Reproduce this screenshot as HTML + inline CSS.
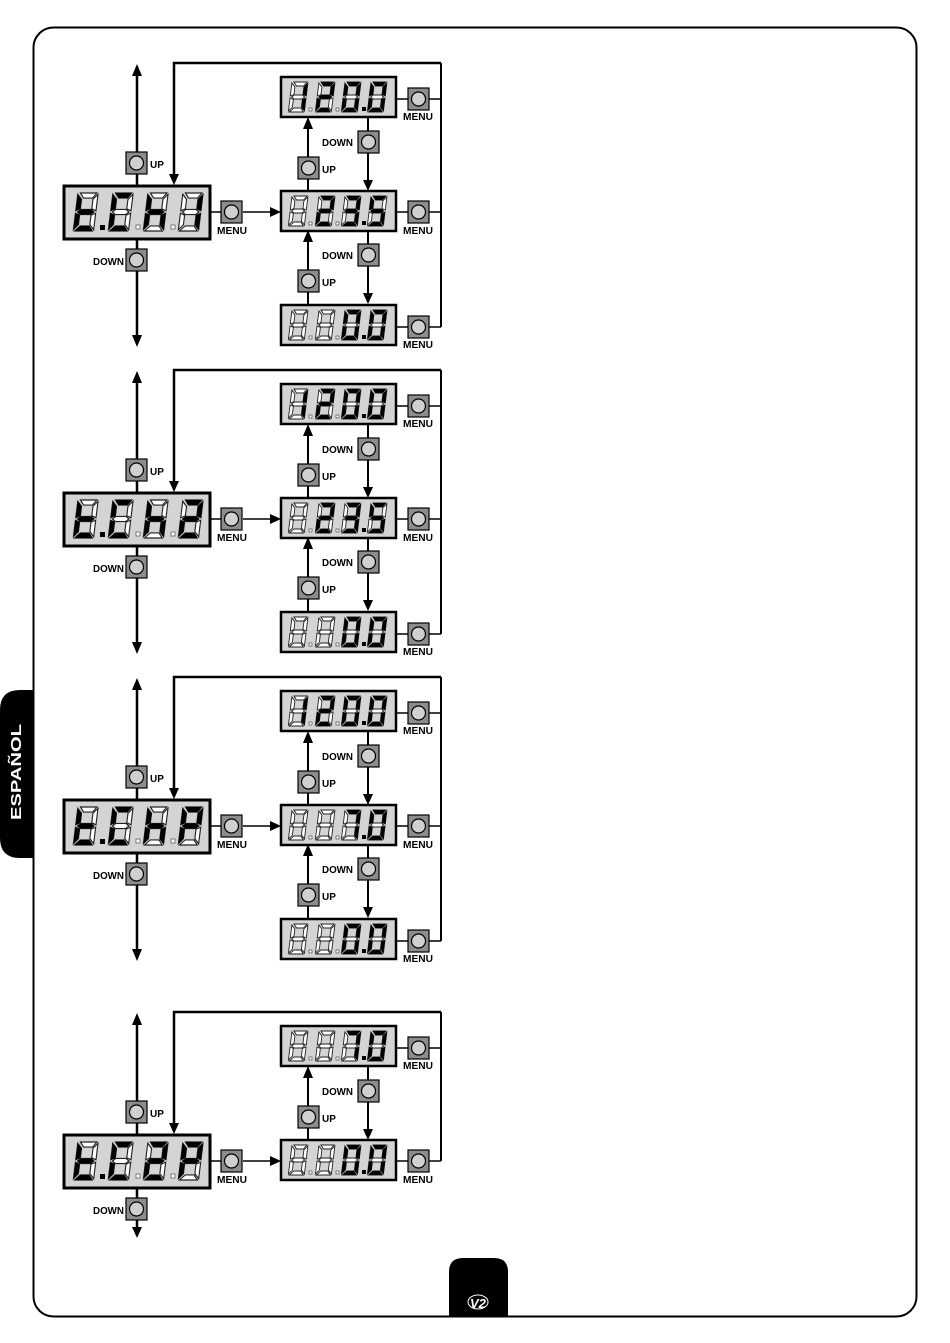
<!DOCTYPE html>
<html><head><meta charset="utf-8"><style>
html,body{margin:0;padding:0;background:#fff;}
svg{display:block}
text{font-family:"Liberation Sans",Arial,sans-serif;font-weight:bold;fill:#000}
</style></head><body>
<svg width="950" height="1343" viewBox="0 0 950 1343" xmlns="http://www.w3.org/2000/svg">
<defs>
<g id="sa"><polygon points="4,0 17,0 14,4 7,4"/></g>
<g id="sb"><polygon points="18,1 18,14 14.5,12.5 14.5,5"/></g>
<g id="sc"><polygon points="18,16 18,29 14.5,25 14.5,17.5"/></g>
<g id="sd"><polygon points="7,26 14,26 17,30 3,30"/></g>
<g id="se"><polygon points="2,16 5.5,17.5 5.5,25 2,29"/></g>
<g id="sf"><polygon points="2,1 5.5,5 5.5,12.5 2,14"/></g>
<g id="sg"><polygon points="3.5,15 6,13 14,13 16.5,15 14,17 6,17"/></g>
<g id="u8" fill="#fff" stroke="#222" stroke-width="0.9"><use href="#sa"/><use href="#sb"/><use href="#sc"/><use href="#sd"/><use href="#se"/><use href="#sf"/><use href="#sg"/></g>
<symbol id="dB" viewBox="0 0 20 30" overflow="visible"><g transform="skewX(-7) translate(2,0)"><use href="#u8"/></g></symbol>
<symbol id="d0" viewBox="0 0 20 30" overflow="visible"><g transform="skewX(-7) translate(2,0)"><use href="#u8"/><g fill="#000"><use href="#sa"/><use href="#sb"/><use href="#sc"/><use href="#sd"/><use href="#se"/><use href="#sf"/></g></g></symbol>
<symbol id="d1" viewBox="0 0 20 30" overflow="visible"><g transform="skewX(-7) translate(2,0)"><use href="#u8"/><g fill="#000"><use href="#sb"/><use href="#sc"/></g></g></symbol>
<symbol id="d2" viewBox="0 0 20 30" overflow="visible"><g transform="skewX(-7) translate(2,0)"><use href="#u8"/><g fill="#000"><use href="#sa"/><use href="#sb"/><use href="#sg"/><use href="#se"/><use href="#sd"/></g></g></symbol>
<symbol id="d3" viewBox="0 0 20 30" overflow="visible"><g transform="skewX(-7) translate(2,0)"><use href="#u8"/><g fill="#000"><use href="#sa"/><use href="#sb"/><use href="#sg"/><use href="#sc"/><use href="#sd"/></g></g></symbol>
<symbol id="d5" viewBox="0 0 20 30" overflow="visible"><g transform="skewX(-7) translate(2,0)"><use href="#u8"/><g fill="#000"><use href="#sa"/><use href="#sf"/><use href="#sg"/><use href="#sc"/><use href="#sd"/></g></g></symbol>
<symbol id="d7" viewBox="0 0 20 30" overflow="visible"><g transform="skewX(-7) translate(2,0)"><use href="#u8"/><g fill="#000"><use href="#sa"/><use href="#sb"/><use href="#sc"/></g></g></symbol>
<symbol id="dt" viewBox="0 0 20 30" overflow="visible"><g transform="skewX(-7) translate(2,0)"><use href="#u8"/><g fill="#000"><use href="#sf"/><use href="#sg"/><use href="#se"/><use href="#sd"/></g></g></symbol>
<symbol id="dC" viewBox="0 0 20 30" overflow="visible"><g transform="skewX(-7) translate(2,0)"><use href="#u8"/><g fill="#000"><use href="#sa"/><use href="#sf"/><use href="#se"/><use href="#sd"/></g></g></symbol>
<symbol id="dh" viewBox="0 0 20 30" overflow="visible"><g transform="skewX(-7) translate(2,0)"><use href="#u8"/><g fill="#000"><use href="#sf"/><use href="#sg"/><use href="#se"/><use href="#sc"/></g></g></symbol>
<symbol id="dP" viewBox="0 0 20 30" overflow="visible"><g transform="skewX(-7) translate(2,0)"><use href="#u8"/><g fill="#000"><use href="#sa"/><use href="#sb"/><use href="#sf"/><use href="#sg"/><use href="#se"/></g></g></symbol>
<g id="btn"><rect x="0" y="0" width="21" height="22" fill="#8c8c8c" stroke="#000" stroke-width="1.2"/><circle cx="10.5" cy="11" r="7" fill="#d0d0d0" stroke="#000" stroke-width="1.2"/></g>
<g id="mainbox"><rect x="64" y="186" width="146" height="53" fill="#d4d4d4" stroke="#000" stroke-width="3"/><rect x="100" y="225" width="5" height="5" fill="#000"/><rect x="136" y="225" width="4" height="4" fill="#fff" stroke="#333" stroke-width=".6"/><rect x="171" y="225" width="4" height="4" fill="#fff" stroke="#333" stroke-width=".6"/></g>
<g id="rbox"><rect x="0" y="0" width="115" height="40" fill="#d4d4d4" stroke="#000" stroke-width="2.5"/><rect x="28" y="31" width="3" height="3" fill="#fff" stroke="#333" stroke-width=".6"/><rect x="55" y="31" width="3" height="3" fill="#fff" stroke="#333" stroke-width=".6"/><rect x="81" y="30" width="4" height="4" fill="#000"/></g>
<g id="left" stroke="#000" stroke-width="2.5" fill="none">
<line x1="137" y1="72" x2="137" y2="186"/>
<polygon points="137,64 132,76 142,76" fill="#000" stroke="none"/>
<polyline points="174,177 174,63 441,63"/>
<polygon points="174,185 169,174 179,174" fill="#000" stroke="none"/>
<line x1="210" y1="212" x2="221" y2="212" stroke-width="1.5"/>
<line x1="243" y1="212" x2="272" y2="212" stroke-width="1.5"/>
<polygon points="281,212 270,207 270,217" fill="#000" stroke="none"/>
</g>
<g id="pair" stroke="#000" stroke-width="2" fill="none">
<line x1="308" y1="191" x2="308" y2="126"/>
<polygon points="308,117 303,129 313,129" fill="#000" stroke="none"/>
<line x1="368" y1="117" x2="368" y2="182"/>
<polygon points="368,191 363,180 373,180" fill="#000" stroke="none"/>
<use href="#btn" x="298" y="157"/>
<use href="#btn" x="358" y="131"/>
</g>
<g id="rmenu" stroke="#000" stroke-width="1.5"><line x1="396" y1="0" x2="408" y2="0"/><line x1="428" y1="0" x2="441" y2="0"/><use href="#btn" x="408" y="-11"/></g>
</defs>

<!-- frame -->
<rect x="33.5" y="27.5" width="883" height="1289" rx="20" ry="20" fill="none" stroke="#000" stroke-width="2"/>
<path d="M33,690 L20,690 Q0,690 0,710 L0,838 Q0,858 20,858 L33,858 Z" fill="#000"/>
<text x="0" y="0" transform="translate(21,820) rotate(-90)" font-size="15" style="fill:#fff" textLength="96" lengthAdjust="spacingAndGlyphs">ESPAÑOL</text>
<path d="M449,1316 L449,1272 Q449,1258 463,1258 L494,1258 Q508,1258 508,1272 L508,1316 Z" fill="#000"/>
<ellipse cx="478" cy="1302" rx="10" ry="7" fill="none" stroke="#fff" stroke-width="1"/>
<text x="470" y="1308" font-size="13" style="fill:#fff;font-style:italic">V2</text>

<!-- BLOCK 1 -->
<g transform="translate(0,0)">
<use href="#left"/>
<line x1="137" y1="186" x2="137" y2="338" stroke="#000" stroke-width="2.5"/>
<polygon points="137,347 132,335 142,335" fill="#000"/>
<use href="#btn" x="126" y="152"/><use href="#btn" x="126" y="249"/><use href="#btn" x="221" y="201"/>
<use href="#mainbox"/>
<use href="#dt" x="72" y="193" width="27" height="38"/><use href="#dC" x="107" y="193" width="27" height="38"/><use href="#dh" x="142" y="193" width="27" height="38"/><use href="#d1" x="177" y="193" width="27" height="38"/>
<line x1="441" y1="63" x2="441" y2="327" stroke="#000" stroke-width="2"/>
<use href="#pair"/><use href="#pair" y="113"/>
<use href="#rmenu" y="99"/><use href="#rmenu" y="212"/><use href="#rmenu" y="327"/>
<use href="#rbox" x="281" y="77"/><use href="#rbox" x="281" y="191"/><use href="#rbox" x="281" y="305"/>
<use href="#d1" x="288" y="82" width="20" height="30"/><use href="#d2" x="315" y="82" width="20" height="30"/><use href="#d0" x="341" y="82" width="20" height="30"/><use href="#d0" x="367" y="82" width="20" height="30"/>
<use href="#dB" x="288" y="196" width="20" height="30"/><use href="#d2" x="315" y="196" width="20" height="30"/><use href="#d3" x="341" y="196" width="20" height="30"/><use href="#d5" x="367" y="196" width="20" height="30"/>
<use href="#dB" x="288" y="310" width="20" height="30"/><use href="#dB" x="315" y="310" width="20" height="30"/><use href="#d0" x="341" y="310" width="20" height="30"/><use href="#d0" x="367" y="310" width="20" height="30"/>
<text x="150" y="168" font-size="10">UP</text><text x="93" y="265" font-size="10" textLength="31" lengthAdjust="spacingAndGlyphs">DOWN</text>
<text x="217" y="234" font-size="10" textLength="30" lengthAdjust="spacingAndGlyphs">MENU</text>
<text x="322" y="173" font-size="10">UP</text><text x="322" y="286" font-size="10">UP</text>
<text x="322" y="146" font-size="10" textLength="31" lengthAdjust="spacingAndGlyphs">DOWN</text><text x="322" y="259" font-size="10" textLength="31" lengthAdjust="spacingAndGlyphs">DOWN</text>
<text x="403" y="120" font-size="10" textLength="30" lengthAdjust="spacingAndGlyphs">MENU</text><text x="403" y="234" font-size="10" textLength="30" lengthAdjust="spacingAndGlyphs">MENU</text><text x="403" y="348" font-size="10" textLength="30" lengthAdjust="spacingAndGlyphs">MENU</text>
</g>

<!-- BLOCK 2 -->
<g transform="translate(0,307)">
<use href="#left"/>
<line x1="137" y1="186" x2="137" y2="338" stroke="#000" stroke-width="2.5"/>
<polygon points="137,347 132,335 142,335" fill="#000"/>
<use href="#btn" x="126" y="152"/><use href="#btn" x="126" y="249"/><use href="#btn" x="221" y="201"/>
<use href="#mainbox"/>
<use href="#dt" x="72" y="193" width="27" height="38"/><use href="#dC" x="107" y="193" width="27" height="38"/><use href="#dh" x="142" y="193" width="27" height="38"/><use href="#d2" x="177" y="193" width="27" height="38"/>
<line x1="441" y1="63" x2="441" y2="327" stroke="#000" stroke-width="2"/>
<use href="#pair"/><use href="#pair" y="113"/>
<use href="#rmenu" y="99"/><use href="#rmenu" y="212"/><use href="#rmenu" y="327"/>
<use href="#rbox" x="281" y="77"/><use href="#rbox" x="281" y="191"/><use href="#rbox" x="281" y="305"/>
<use href="#d1" x="288" y="82" width="20" height="30"/><use href="#d2" x="315" y="82" width="20" height="30"/><use href="#d0" x="341" y="82" width="20" height="30"/><use href="#d0" x="367" y="82" width="20" height="30"/>
<use href="#dB" x="288" y="196" width="20" height="30"/><use href="#d2" x="315" y="196" width="20" height="30"/><use href="#d3" x="341" y="196" width="20" height="30"/><use href="#d5" x="367" y="196" width="20" height="30"/>
<use href="#dB" x="288" y="310" width="20" height="30"/><use href="#dB" x="315" y="310" width="20" height="30"/><use href="#d0" x="341" y="310" width="20" height="30"/><use href="#d0" x="367" y="310" width="20" height="30"/>
<text x="150" y="168" font-size="10">UP</text><text x="93" y="265" font-size="10" textLength="31" lengthAdjust="spacingAndGlyphs">DOWN</text>
<text x="217" y="234" font-size="10" textLength="30" lengthAdjust="spacingAndGlyphs">MENU</text>
<text x="322" y="173" font-size="10">UP</text><text x="322" y="286" font-size="10">UP</text>
<text x="322" y="146" font-size="10" textLength="31" lengthAdjust="spacingAndGlyphs">DOWN</text><text x="322" y="259" font-size="10" textLength="31" lengthAdjust="spacingAndGlyphs">DOWN</text>
<text x="403" y="120" font-size="10" textLength="30" lengthAdjust="spacingAndGlyphs">MENU</text><text x="403" y="234" font-size="10" textLength="30" lengthAdjust="spacingAndGlyphs">MENU</text><text x="403" y="348" font-size="10" textLength="30" lengthAdjust="spacingAndGlyphs">MENU</text>
</g>

<!-- BLOCK 3 -->
<g transform="translate(0,614)">
<use href="#left"/>
<line x1="137" y1="186" x2="137" y2="338" stroke="#000" stroke-width="2.5"/>
<polygon points="137,347 132,335 142,335" fill="#000"/>
<use href="#btn" x="126" y="152"/><use href="#btn" x="126" y="249"/><use href="#btn" x="221" y="201"/>
<use href="#mainbox"/>
<use href="#dt" x="72" y="193" width="27" height="38"/><use href="#dC" x="107" y="193" width="27" height="38"/><use href="#dh" x="142" y="193" width="27" height="38"/><use href="#dP" x="177" y="193" width="27" height="38"/>
<line x1="441" y1="63" x2="441" y2="327" stroke="#000" stroke-width="2"/>
<use href="#pair"/><use href="#pair" y="113"/>
<use href="#rmenu" y="99"/><use href="#rmenu" y="212"/><use href="#rmenu" y="327"/>
<use href="#rbox" x="281" y="77"/><use href="#rbox" x="281" y="191"/><use href="#rbox" x="281" y="305"/>
<use href="#d1" x="288" y="82" width="20" height="30"/><use href="#d2" x="315" y="82" width="20" height="30"/><use href="#d0" x="341" y="82" width="20" height="30"/><use href="#d0" x="367" y="82" width="20" height="30"/>
<use href="#dB" x="288" y="196" width="20" height="30"/><use href="#dB" x="315" y="196" width="20" height="30"/><use href="#d7" x="341" y="196" width="20" height="30"/><use href="#d0" x="367" y="196" width="20" height="30"/>
<use href="#dB" x="288" y="310" width="20" height="30"/><use href="#dB" x="315" y="310" width="20" height="30"/><use href="#d0" x="341" y="310" width="20" height="30"/><use href="#d0" x="367" y="310" width="20" height="30"/>
<text x="150" y="168" font-size="10">UP</text><text x="93" y="265" font-size="10" textLength="31" lengthAdjust="spacingAndGlyphs">DOWN</text>
<text x="217" y="234" font-size="10" textLength="30" lengthAdjust="spacingAndGlyphs">MENU</text>
<text x="322" y="173" font-size="10">UP</text><text x="322" y="286" font-size="10">UP</text>
<text x="322" y="146" font-size="10" textLength="31" lengthAdjust="spacingAndGlyphs">DOWN</text><text x="322" y="259" font-size="10" textLength="31" lengthAdjust="spacingAndGlyphs">DOWN</text>
<text x="403" y="120" font-size="10" textLength="30" lengthAdjust="spacingAndGlyphs">MENU</text><text x="403" y="234" font-size="10" textLength="30" lengthAdjust="spacingAndGlyphs">MENU</text><text x="403" y="348" font-size="10" textLength="30" lengthAdjust="spacingAndGlyphs">MENU</text>
</g>

<!-- BLOCK 4 -->
<g transform="translate(0,949)">
<use href="#left"/>
<line x1="137" y1="186" x2="137" y2="280" stroke="#000" stroke-width="2.5"/>
<polygon points="137,289 132,278 142,278" fill="#000"/>
<use href="#btn" x="126" y="152"/><use href="#btn" x="126" y="249"/><use href="#btn" x="221" y="201"/>
<use href="#mainbox"/>
<use href="#dt" x="72" y="193" width="27" height="38"/><use href="#dC" x="107" y="193" width="27" height="38"/><use href="#d2" x="142" y="193" width="27" height="38"/><use href="#dP" x="177" y="193" width="27" height="38"/>
<line x1="441" y1="63" x2="441" y2="212" stroke="#000" stroke-width="2"/>
<use href="#pair"/>
<use href="#rmenu" y="99"/><use href="#rmenu" y="212"/>
<use href="#rbox" x="281" y="77"/><use href="#rbox" x="281" y="191"/>
<use href="#dB" x="288" y="82" width="20" height="30"/><use href="#dB" x="315" y="82" width="20" height="30"/><use href="#d7" x="341" y="82" width="20" height="30"/><use href="#d0" x="367" y="82" width="20" height="30"/>
<use href="#dB" x="288" y="196" width="20" height="30"/><use href="#dB" x="315" y="196" width="20" height="30"/><use href="#d0" x="341" y="196" width="20" height="30"/><use href="#d0" x="367" y="196" width="20" height="30"/>
<text x="150" y="168" font-size="10">UP</text><text x="93" y="265" font-size="10" textLength="31" lengthAdjust="spacingAndGlyphs">DOWN</text>
<text x="217" y="234" font-size="10" textLength="30" lengthAdjust="spacingAndGlyphs">MENU</text>
<text x="322" y="173" font-size="10">UP</text>
<text x="322" y="146" font-size="10" textLength="31" lengthAdjust="spacingAndGlyphs">DOWN</text>
<text x="403" y="120" font-size="10" textLength="30" lengthAdjust="spacingAndGlyphs">MENU</text><text x="403" y="234" font-size="10" textLength="30" lengthAdjust="spacingAndGlyphs">MENU</text>
</g>
</svg>
</body></html>
